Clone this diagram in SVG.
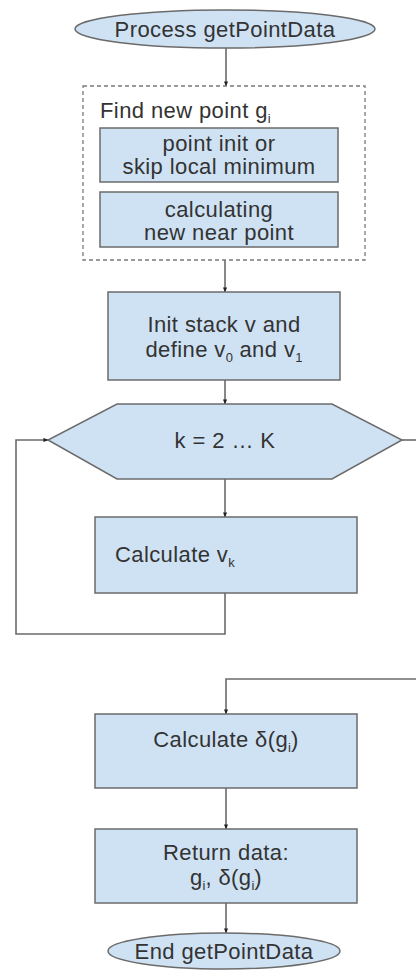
<svg xmlns="http://www.w3.org/2000/svg" width="416" height="974" viewBox="0 0 416 974">
<defs>
<style>
.n{fill:#cfe2f3;stroke:#6b6b6b;stroke-width:1.5}
.g{fill:none;stroke:#7a7a7a;stroke-width:1.3;stroke-dasharray:4 3}
.e{fill:none;stroke:#6b6b6b;stroke-width:1.6}
.t{font-family:"Liberation Sans",Arial,sans-serif;font-size:22px;letter-spacing:0.4px;fill:#333;text-anchor:middle}
.l{text-anchor:start}
.s{font-size:13px;letter-spacing:0}
</style>
<marker id="a" viewBox="0 0 6 6" refX="5.5" refY="3" markerWidth="5" markerHeight="5" orient="auto" markerUnits="userSpaceOnUse">
<path d="M0,0.5 L6,3 L0,5.5 Z" fill="#222"/>
</marker>
</defs>
<rect width="416" height="974" fill="#fff"/>
<g id="connectors">
<path class="e" d="M226,48 V86" marker-end="url(#a)"/>
<path class="e" d="M225,260 V292" marker-end="url(#a)"/>
<path class="e" d="M225,380 V404" marker-end="url(#a)"/>
<path class="e" d="M225,479 V517" marker-end="url(#a)"/>
<path class="e" d="M225,593 V634 H16 V440 H48" marker-end="url(#a)"/>
<path class="e" d="M402,440 H420"/>
<path class="e" d="M420,679 H226 V714" marker-end="url(#a)"/>
<path class="e" d="M226,788 V829" marker-end="url(#a)"/>
<path class="e" d="M226,903 V933" marker-end="url(#a)"/>
</g>
<g id="start">
<ellipse class="n" cx="225" cy="29" rx="150" ry="19"/>
<text class="t" x="225" y="37">Process getPointData</text>
</g>
<g id="find-group">
<rect class="g" x="83" y="86" width="282" height="174"/>
<text class="t l" x="100" y="118">Find new point g<tspan class="s" dy="5">i</tspan></text>
</g>
<g id="point-init">
<rect class="n" x="100" y="128" width="238" height="54"/>
<text class="t" x="219" y="151">point init or</text>
<text class="t" x="219" y="174">skip local minimum</text>
</g>
<g id="near-point">
<rect class="n" x="100" y="192" width="238" height="55"/>
<text class="t" x="219" y="217">calculating</text>
<text class="t" x="219" y="240">new near point</text>
</g>
<g id="init-stack">
<rect class="n" x="108" y="292" width="232" height="88"/>
<text class="t" x="224" y="332">Init stack v and</text>
<text class="t" x="224" y="357">define v<tspan class="s" dy="5">0</tspan><tspan dy="-5"> and v</tspan><tspan class="s" dy="5">1</tspan></text>
</g>
<g id="loop">
<polygon class="n" points="117,404 332,404 402,440 332,479 117,479 48,440"/>
<text class="t" x="225" y="448">k = 2 … K</text>
</g>
<g id="calc-vk">
<rect class="n" x="95" y="517" width="262" height="76"/>
<text class="t l" x="115" y="562">Calculate v<tspan class="s" dy="5">k</tspan></text>
</g>
<g id="calc-delta">
<rect class="n" x="95" y="714" width="262" height="74"/>
<text class="t" x="226" y="747">Calculate δ(g<tspan class="s" dy="5">i</tspan><tspan dy="-5">)</tspan></text>
</g>
<g id="return">
<rect class="n" x="95" y="829" width="262" height="74"/>
<text class="t" x="226" y="860">Return data:</text>
<text class="t" x="226" y="885">g<tspan class="s" dy="5">i</tspan><tspan dy="-5">, δ(g</tspan><tspan class="s" dy="5">i</tspan><tspan dy="-5">)</tspan></text>
</g>
<g id="end">
<ellipse class="n" cx="224" cy="951" rx="116" ry="18"/>
<text class="t" x="224" y="959">End getPointData</text>
</g>
</svg>
